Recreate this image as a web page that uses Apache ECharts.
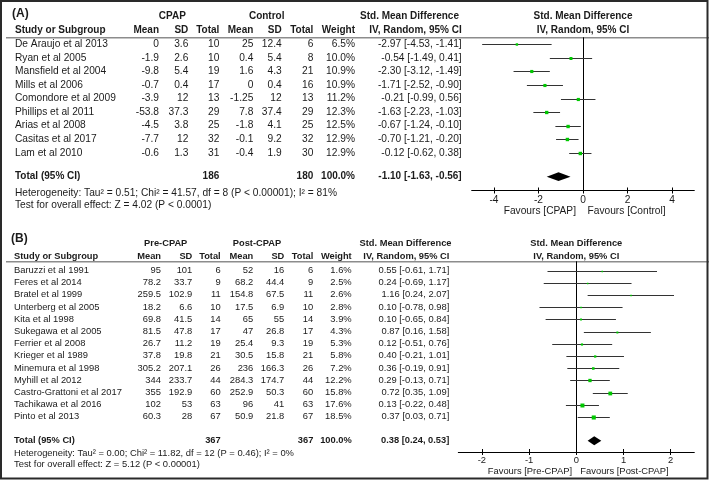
<!DOCTYPE html>
<html><head><meta charset="utf-8">
<script src="https://cdn.jsdelivr.net/npm/echarts@6/dist/echarts.min.js"></script>
<style>html,body{margin:0;padding:0;background:#fff}#c{width:709px;height:482px}</style>
</head><body><div id="c"></div>
<script>
// ---------- Panel A data ----------
const studiesA = ["De Araujo et al 2013","Ryan et al 2005","Mansfield et al 2004","Mills et al 2006","Comondore et al 2009","Phillips et al 2011","Arias et al 2008","Casitas et al 2017","Lam et al 2010"];
const cpapMean = [0,-1.9,-9.8,-0.7,-3.9,-53.8,-4.5,-7.7,-0.6];
const cpapSD = [3.6,2.6,5.4,0.4,12,37.3,3.8,12,1.3];
const cpapN = [10,10,19,17,13,29,25,32,31];
const ctrlMean = [25,0.4,1.6,0,-1.25,7.8,-1.8,-0.1,-0.4];
const ctrlSD = [12.4,5.4,4.3,0.4,12,37.4,4.1,9.2,1.9];
const ctrlN = [6,8,21,16,13,29,25,32,30];
const weightA = [6.5,10.0,10.9,10.9,11.2,12.3,12.5,12.9,12.9];
const smdA = [-2.97,-0.54,-2.30,-1.71,-0.21,-1.63,-0.67,-0.70,-0.12];
const loA = [-4.53,-1.49,-3.12,-2.52,-0.99,-2.23,-1.24,-1.21,-0.62];
const hiA = [-1.41,0.41,-1.49,-0.90,0.56,-1.03,-0.10,-0.20,0.38];
const totalA = {n1:186, n2:180, w:100.0, est:-1.10, lo:-1.63, hi:-0.56};
const hetA = "Heterogeneity: Tau\u00b2 = 0.51; Chi\u00b2 = 41.57, df = 8 (P < 0.00001); I\u00b2 = 81%";
const testA = "Test for overall effect: Z = 4.02 (P < 0.0001)";
const groupsA = ["CPAP","Control"];
const favoursA = ["Favours [CPAP]","Favours [Control]"];
const ticksA = [-4,-2,0,2,4];

// ---------- Panel B data ----------
const studiesB = ["Baruzzi et al 1991","Feres et al 2014","Bratel et al 1999","Unterberg et al 2005","Kita et al 1998","Sukegawa et al 2005","Ferrier et al 2008","Krieger et al 1989","Minemura et al 1998","Myhill et al 2012","Castro-Grattoni et al 2017","Tachikawa et al 2016","Pinto et al 2013"];
const preMean = [95,78.2,259.5,18.2,69.8,81.5,26.7,37.8,305.2,344,355,102,60.3];
const preSD = [101,33.7,102.9,6.6,41.5,47.8,11.2,19.8,207.1,233.7,192.9,53,28];
const preN = [6,9,11,10,14,17,19,21,26,44,60,63,67];
const postMean = [52,68.2,154.8,17.5,65,47,25.4,30.5,236,284.3,252.9,96,50.9];
const postSD = [16,44.4,67.5,6.9,55,26.8,9.3,15.8,166.3,174.7,50.3,41,21.8];
const postN = [6,9,11,10,14,17,19,21,26,44,60,63,67];
const weightB = [1.6,2.5,2.6,2.8,3.9,4.3,5.3,5.8,7.2,12.2,15.8,17.6,18.5];
const smdB = [0.55,0.24,1.16,0.10,0.10,0.87,0.12,0.40,0.36,0.29,0.72,0.13,0.37];
const loB = [-0.61,-0.69,0.24,-0.78,-0.65,0.16,-0.51,-0.21,-0.19,-0.13,0.35,-0.22,0.03];
const hiB = [1.71,1.17,2.07,0.98,0.84,1.58,0.76,1.01,0.91,0.71,1.09,0.48,0.71];
const totalB = {n1:367, n2:367, w:100.0, est:0.38, lo:0.24, hi:0.53};
const hetB = "Heterogeneity: Tau\u00b2 = 0.00; Chi\u00b2 = 11.82, df = 12 (P = 0.46); I\u00b2 = 0%";
const testB = "Test for overall effect: Z = 5.12 (P < 0.00001)";
const groupsB = ["Pre-CPAP","Post-CPAP"];
const favoursB = ["Favours [Pre-CPAP]","Favours [Post-CPAP]"];
const ticksB = [-2,-1,0,1,2];

// ---------- layout ----------
const FF = "'Liberation Sans', Arial, sans-serif";
const TXT = '#1b1b1b';
const GREEN = '#00c800';
const LA = {fs:10.2, hfs:10, title:'(A)', titleY:13.3, g1:16.7, g2:30.7, line:37.7, row1:44.3, step:13.55, total:176.7, axis:190.5,
  het:193, test:205.5, fav:211.5, gridLeft:471.7, gridRight:694.3, xmin:-5, xmax:5, labelMargin:4.5, favGapL:7, favGapR:4.5,
  nameX:15, cols:[159,188.3,219.3,253.3,281.7,313.3,355,461.7], grpX:[172.3,266.7], ciHdrC:409.5, diamondH:4.4};
const LB = {fs:9.4, hfs:9.3, title:'(B)', titleY:239, g1:243, g2:256, line:261.7, row1:270.5, step:12.2, total:440.7, axis:452,
  het:453, test:464, fav:471.5, gridLeft:458.3, gridRight:694.3, xmin:-2.5, xmax:2.5, labelMargin:4, favGapL:4.3, favGapR:4,
  nameX:14, cols:[161,192.3,220.7,253.3,284.3,313.3,351.7,449.3], grpX:[165.7,257], ciHdrC:405.5, diamondH:4.5};

function rowVal(L, py){ return 1 + (py - L.row1)/L.step; }

function ciRender(params, api){
  const row=api.value(0), est=api.value(1), lo=api.value(2), hi=api.value(3), w=api.value(4);
  const p0=api.coord([lo,row]), p1=api.coord([hi,row]), pc=api.coord([est,row]);
  const s = Math.max(1.5, 0.95*Math.sqrt(w));
  const y = Math.round(p0[1])+0.5;
  return {type:'group', children:[
    {type:'line', shape:{x1:p0[0],y1:y,x2:p1[0],y2:y}, style:{stroke:'#333',lineWidth:1}},
    {type:'rect', shape:{x:pc[0]-s/2,y:y-s/2,width:s,height:s}, style:{fill:GREEN}}
  ]};
}
function makeDiamondRender(h){
  return function(params, api){
    const row=api.value(0);
    const pl=api.coord([api.value(2),row]), pc=api.coord([api.value(1),row]), pr=api.coord([api.value(3),row]);
    return {type:'polygon', shape:{points:[[pl[0],pl[1]],[pc[0],pc[1]-h],[pr[0],pr[1]],[pc[0],pc[1]+h]]}, style:{fill:'#000'}};
  };
}

function gridOf(L){
  return {left:L.gridLeft, top:L.line, width:L.gridRight-L.gridLeft, height:L.axis-L.line, containLabel:false};
}
function xAxesOf(L, gi, ticks){
  const base = {type:'value', gridIndex:gi, min:L.xmin, max:L.xmax, position:'bottom', splitLine:{show:false}};
  return [
    Object.assign({}, base, {
      axisLine:{show:true, onZero:false, lineStyle:{color:'#000', width:1}},
      axisTick:{show:true, inside:false, length:3, customValues:ticks, lineStyle:{color:'#000'}},
      axisLabel:{show:true, customValues:ticks, margin:L.labelMargin, color:TXT, fontSize:L.fs, fontFamily:FF,
        formatter:v=>String(v)}
    }),
    Object.assign({}, base, {
      axisLine:{show:false, onZero:false},
      axisTick:{show:true, inside:true, length:3, customValues:ticks, lineStyle:{color:'#000'}},
      axisLabel:{show:false}
    })
  ];
}
function yAxisOf(L, gi, xi){
  return {type:'value', gridIndex:gi, inverse:true,
    min: rowVal(L, L.line), max: rowVal(L, L.axis),
    axisLine:{show:true, onZero:true, onZeroAxisIndex:xi, lineStyle:{color:'#000', width:1}},
    axisTick:{show:false}, axisLabel:{show:false}, splitLine:{show:false}};
}

const dataA = studiesA.map((s,i)=>[i+1, smdA[i], loA[i], hiA[i], weightA[i]]);
const dataB = studiesB.map((s,i)=>[i+1, smdB[i], loB[i], hiB[i], weightB[i]]);

const chart = echarts.init(document.getElementById('c'), null, {renderer:'canvas'});
chart.setOption({
  backgroundColor:'#fff',
  animation:false,
  grid:[gridOf(LA), gridOf(LB)],
  xAxis:[...xAxesOf(LA,0,ticksA), ...xAxesOf(LB,1,ticksB)],
  yAxis:[yAxisOf(LA,0,0), yAxisOf(LB,1,2)],
  series:[
    {type:'custom', xAxisIndex:0, yAxisIndex:0, renderItem:ciRender, data:dataA, encode:{x:[1,2,3], y:0}, clip:false},
    {type:'custom', xAxisIndex:0, yAxisIndex:0, renderItem:makeDiamondRender(LA.diamondH),
      data:[[rowVal(LA,LA.total), totalA.est, totalA.lo, totalA.hi]], encode:{x:[1,2,3], y:0}, clip:false},
    {type:'custom', xAxisIndex:2, yAxisIndex:1, renderItem:ciRender, data:dataB, encode:{x:[1,2,3], y:0}, clip:false},
    {type:'custom', xAxisIndex:2, yAxisIndex:1, renderItem:makeDiamondRender(LB.diamondH),
      data:[[rowVal(LB,LB.total), totalB.est, totalB.lo, totalB.hi]], encode:{x:[1,2,3], y:0}, clip:false}
  ]
});

// ---------- table text ----------
const els = [];
function T(x, y, text, opt){
  opt = opt || {};
  const fs = opt.fs || 10, bold = opt.bold ? 'bold ' : '';
  const al = opt.align || 'left';
  els.push({type:'text', x:x, y:y, silent:true, style:{text:String(text), fill:opt.color||TXT,
    font: bold + fs + 'px ' + FF, textAlign:al, align:al, textVerticalAlign:'middle', verticalAlign:'middle'}});
}
function fmtCI(e,l,h){ return e.toFixed(2)+' ['+l.toFixed(2)+', '+h.toFixed(2)+']'; }

function panel(L, xi, yi, names, m1, s1, n1, m2, s2, n2, wt, est, lo, hi, tot, het, test, groups, fav){
  const yp = r => chart.convertToPixel({yAxisIndex:yi}, r);
  const x0 = chart.convertToPixel({xAxisIndex:xi}, 0);
  const c = L.cols;
  T(L.nameX-3, L.titleY, L.title, {fs:12, bold:true});
  T(L.grpX[0], L.g1, groups[0], {fs:L.hfs, bold:true, align:'center'});
  T(L.grpX[1], L.g1, groups[1], {fs:L.hfs, bold:true, align:'center'});
  T(L.ciHdrC, L.g1, 'Std. Mean Difference', {fs:L.hfs, bold:true, align:'center'});
  T(x0, L.g1, 'Std. Mean Difference', {fs:L.hfs, bold:true, align:'center'});
  T(L.nameX, L.g2, 'Study or Subgroup', {fs:L.hfs, bold:true});
  ['Mean','SD','Total','Mean','SD','Total','Weight'].forEach((h,k)=>T(c[k], L.g2, h, {fs:L.hfs, bold:true, align:'right'}));
  T(c[7], L.g2, 'IV, Random, 95% CI', {fs:L.hfs, bold:true, align:'right'});
  T(x0, L.g2, 'IV, Random, 95% CI', {fs:L.hfs, bold:true, align:'center'});
  els.push({type:'line', silent:true, shape:{x1:6, y1:L.line, x2:709, y2:L.line}, style:{stroke:'#8c8c8c', lineWidth:1.6}});
  names.forEach((nm,i)=>{
    const y = yp(i+1);
    T(L.nameX, y, nm, {fs:L.fs});
    [m1[i], s1[i], n1[i], m2[i], s2[i], n2[i]].forEach((v,k)=>T(c[k], y, v, {fs:L.fs, align:'right'}));
    T(c[6], y, wt[i].toFixed(1)+'%', {fs:L.fs, align:'right'});
    T(c[7], y, fmtCI(est[i], lo[i], hi[i]), {fs:L.fs, align:'right'});
  });
  const yt = yp(rowVal(L, L.total));
  T(L.nameX, yt, 'Total (95% CI)', {fs:L.hfs, bold:true});
  T(c[2], yt, tot.n1, {fs:L.hfs, bold:true, align:'right'});
  T(c[5], yt, tot.n2, {fs:L.hfs, bold:true, align:'right'});
  T(c[6], yt, tot.w.toFixed(1)+'%', {fs:L.hfs, bold:true, align:'right'});
  T(c[7], yt, fmtCI(tot.est, tot.lo, tot.hi), {fs:L.hfs, bold:true, align:'right'});
  T(L.nameX, L.het, het, {fs:L.fs});
  T(L.nameX, L.test, test, {fs:L.fs});
  T(x0 - L.favGapL, L.fav, fav[0], {fs:L.fs, align:'right'});
  T(x0 + L.favGapR, L.fav, fav[1], {fs:L.fs, align:'left'});
}
panel(LA, 0, 0, studiesA, cpapMean, cpapSD, cpapN, ctrlMean, ctrlSD, ctrlN, weightA, smdA, loA, hiA, totalA, hetA, testA, groupsA, favoursA);
panel(LB, 2, 1, studiesB, preMean, preSD, preN, postMean, postSD, postN, weightB, smdB, loB, hiB, totalB, hetB, testB, groupsB, favoursB);
els.push({type:'rect', silent:true, shape:{x:1, y:1, width:706.5, height:477.5}, style:{fill:'none', stroke:'#2a2a2a', lineWidth:2}});
chart.setOption({graphic:{elements:els}});
</script>
</body></html>
